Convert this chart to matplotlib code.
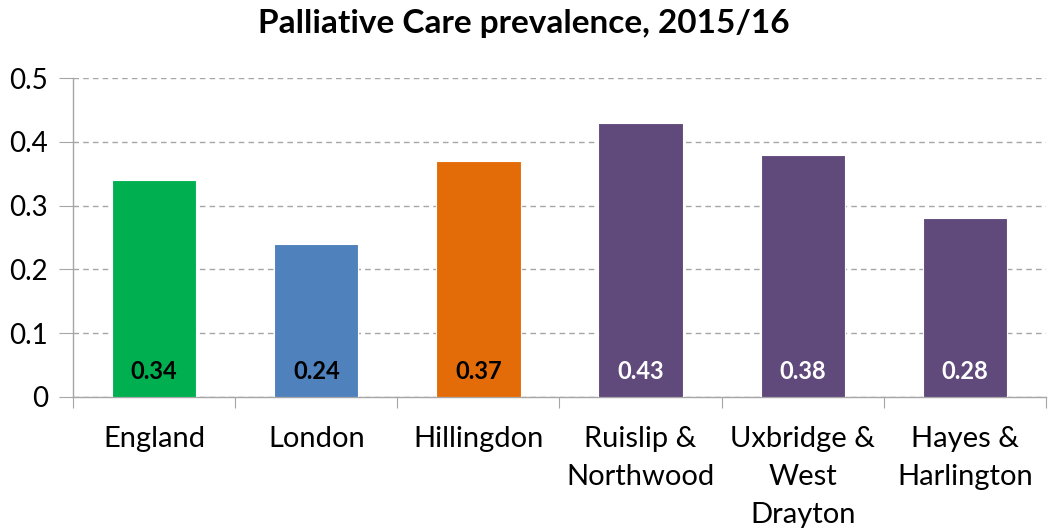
import matplotlib
matplotlib.use("Agg")
import matplotlib.pyplot as plt

categories = ["England", "London", "Hillingdon", "Ruislip &\nNorthwood",
              "Uxbridge &\nWest\nDrayton", "Hayes &\nHarlington"]
values = [0.34, 0.24, 0.37, 0.43, 0.38, 0.28]
colors = ["#00B050", "#4F81BD", "#E36C09", "#604A7B", "#604A7B", "#604A7B"]
label_colors = ["black", "black", "black", "white", "white", "white"]
yticks = [0, 0.1, 0.2, 0.3, 0.4, 0.5]
ytick_labels = ["0", "0.1", "0.2", "0.3", "0.4", "0.5"]
title = "Palliative Care prevalence, 2015/16"

plt.rcParams['font.family'] = ['Lato', 'DejaVu Sans']

fig = plt.figure(figsize=(10.48, 5.31), dpi=100)
ax = fig.add_axes([0.0697, 0.2524, 0.9283, 0.6006])

x = list(range(len(categories)))
ax.bar(x, values, width=0.52, color=colors, edgecolor="white", linewidth=0.8, zorder=3)

for xi, v, lc in zip(x, values, label_colors):
    ax.annotate(f"{v:.2f}", xy=(xi, 0), xytext=(0, 18), textcoords="offset points",
                ha="center", va="center", fontsize=17, fontweight="bold", color=lc, zorder=4)

ax.set_xlim(-0.5, len(categories) - 0.5)
ax.set_ylim(0, 0.5)
ax.set_yticks(yticks)
ax.set_yticklabels(ytick_labels)
ax.grid(axis="y", linestyle=(0, (4, 3)), color="#A6A6A6", linewidth=1, zorder=0)

ax.set_xticks([i + 0.5 for i in range(-1, len(categories))], minor=False)
ax.set_xticklabels([])
ax.set_xticks(x, minor=True)
ax.set_xticklabels(categories, minor=True, fontsize=21, linespacing=1.57)
ax.tick_params(axis="x", which="minor", length=0, pad=21)
ax.tick_params(axis="x", which="major", length=8, color="#A6A6A6", direction="out")
ax.tick_params(axis="y", length=10, color="#A6A6A6", labelsize=20, pad=8)

for s in ["top", "right"]:
    ax.spines[s].set_visible(False)
for s in ["left", "bottom"]:
    ax.spines[s].set_color("#A6A6A6")
    ax.spines[s].set_linewidth(1)

fig.text(0.5, 0.955, title, ha="center", va="center", fontsize=24, fontweight="bold")

fig.savefig("out.png", dpi=100)
